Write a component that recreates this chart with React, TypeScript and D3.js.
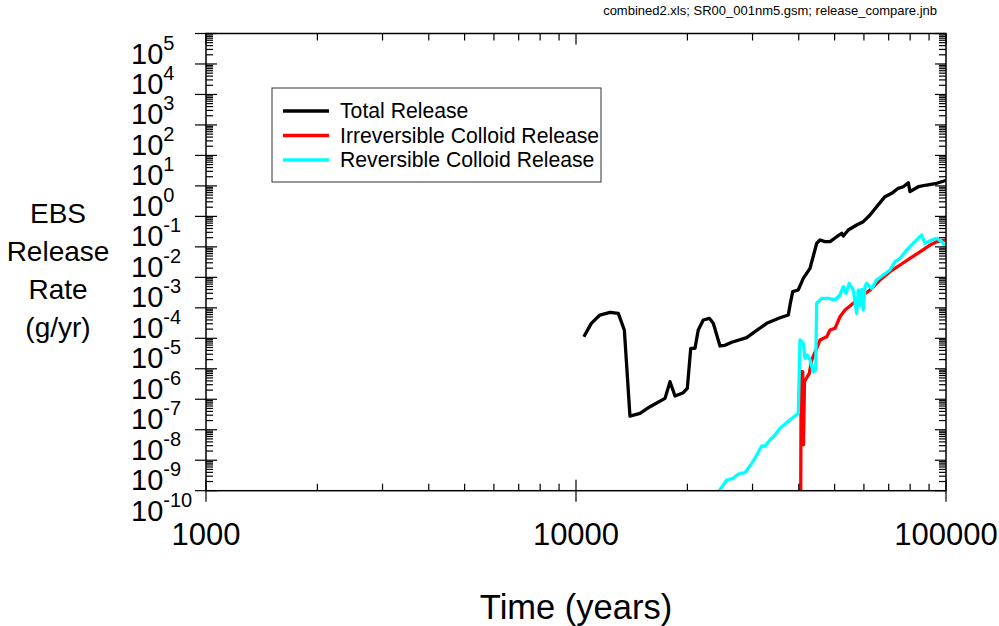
import React from 'react';
import * as d3 from 'd3';

// EBS release rate vs time, log-log

const totalYears = [10500, 11000, 11600, 12360, 13010, 13510, 13990, 14890, 15850, 17400, 17950, 18520, 19500, 19990, 20420, 20970, 21400, 22080, 22930, 23500, 24500, 25270, 26350, 28930, 30460, 32770, 35590, 37480, 37880, 38520, 39880, 41140, 42900, 44730, 45660, 47100, 48590, 50660, 52260, 52780, 54440, 57360, 59770, 62310, 64960, 68410, 71330, 74310, 76650, 79100, 79920, 84170, 88660, 94380, 99380, 100000];
const totalValues = [1.13e-5, 3.1e-5, 5.8e-5, 7.1e-5, 6.6e-5, 1.87e-5, 2.8e-8, 3.46e-8, 5.7e-8, 1.07e-7, 3.77e-7, 1.28e-7, 1.64e-7, 2.29e-7, 4.7e-6, 4.7e-6, 1.87e-5, 3.98e-5, 4.53e-5, 3.1e-5, 5.6e-6, 5.9e-6, 7.4e-6, 1.05e-5, 1.65e-5, 3.1e-5, 4.74e-5, 5.8e-5, 1.24e-4, 3.38e-4, 3.85e-4, 9.3e-4, 1.98e-3, 1.31e-2, 1.68e-2, 1.48e-2, 1.48e-2, 2.15e-2, 2.79e-2, 2.27e-2, 3.57e-2, 5.2e-2, 6.7e-2, 0.111, 0.208, 0.443, 0.571, 0.834, 0.94, 1.27, 0.646, 0.94, 1.07, 1.22, 1.48, 1.5];

const irrevYears = [40490, 40600, 41000, 41200, 41450, 41700, 42180, 42710, 43350, 44730, 45660, 47600, 48590, 50120, 51700, 53330, 56160, 57360, 62310, 66310, 70560, 75120, 79920, 85070, 90530, 94380, 99380, 100000];
const irrevValues = [9e-11, 8.0e-7, 8.0e-7, 3.2e-9, 4.0e-7, 4.3e-7, 5.5e-7, 7.1e-7, 1.94e-6, 4.7e-6, 8.8e-6, 1.13e-5, 1.87e-5, 2.13e-5, 5.1e-5, 8.5e-5, 1.41e-4, 1.81e-4, 3.85e-4, 8.2e-4, 1.53e-3, 2.54e-3, 4.2e-3, 6.9e-3, 1.15e-2, 1.48e-2, 1.68e-2, 1.6e-2];

const revYears = [24240, 25550, 26610, 27460, 28630, 29850, 30790, 31760, 32420, 33440, 34500, 35590, 37880, 39880, 40310, 41140, 41580, 42180, 42900, 43790, 44440, 44730, 46140, 48070, 50120, 51700, 52780, 53660, 54780, 56160, 57360, 57940, 58560, 59200, 59770, 60400, 61060, 62990, 64960, 67680, 70560, 72820, 75120, 78320, 81560, 85990, 87770, 91480, 94380, 97360, 100000];
const revValues = [9e-11, 2.24e-10, 2.55e-10, 3.53e-10, 3.9e-10, 7.9e-10, 1.48e-9, 2.93e-9, 2.9e-9, 4.6e-9, 6.7e-9, 1.11e-8, 2.09e-8, 3.46e-8, 8.8e-6, 6.9e-6, 2.2e-6, 2.83e-6, 1.94e-6, 8.0e-7, 9.1e-7, 1.41e-4, 2.05e-4, 2.05e-4, 1.81e-4, 2.64e-4, 4.93e-4, 2.95e-4, 6.37e-4, 3.85e-4, 6.6e-5, 3.85e-4, 1.2e-4, 4.0e-4, 8.5e-5, 5.0e-4, 6.37e-4, 4.37e-4, 8.2e-4, 1.19e-3, 1.74e-3, 3.26e-3, 4.2e-3, 7.9e-3, 1.31e-2, 2.45e-2, 1.31e-2, 1.68e-2, 1.91e-2, 1.48e-2, 1.01e-2];

const seriesNames = ['Total Release', 'Irreversible Colloid Release', 'Reversible Colloid Release'];
const seriesColors = ['#000000', '#ff0000', '#00ffff'];
const yLabelLines = ['EBS', 'Release', 'Rate', '(g/yr)'];
const xTickLabels = ['1000', '10000', '100000'];

const FONT = '"Liberation Sans", Arial, Helvetica, sans-serif';

export default function App() {
  const width = 999;
  const height = 626;
  const left = 206, right = 946, top = 33.5, bottom = 490.7;

  const x = d3.scaleLog().domain([1000, 100000]).range([left, right]);
  const y = d3.scaleLog().domain([1e-10, 1e5]).range([bottom, top]);

  const line = d3.line<[number, number]>()
    .x(d => x(d[0]))
    .y(d => y(d[1]));

  const series = [
    d3.zip(totalYears, totalValues),
    d3.zip(irrevYears, irrevValues),
    d3.zip(revYears, revValues),
  ] as [number, number][][];

  // decades and minor ticks
  const yMajors = d3.range(-10, 6).map(e => Math.pow(10, e));
  const yMinors: number[] = [];
  yMajors.slice(0, -1).forEach(p => { for (let k = 2; k <= 9; k++) yMinors.push(p * k); });
  const xMajors = [1000, 10000, 100000];
  const xMinors: number[] = [];
  xMajors.slice(0, -1).forEach(p => { for (let k = 2; k <= 9; k++) xMinors.push(p * k); });

  const major = 11, minor = 7;

  return (
    <svg width={width} height={height} style={{ position: 'absolute', left: 0, top: 0, background: '#fff' }}
      fontFamily={FONT}>
      <defs>
        <clipPath id="plot-clip">
          <rect x={left} y={top} width={right - left} height={bottom - top} />
        </clipPath>
      </defs>

      <text x={937} y={15} fontSize={13} textAnchor="end" fill="#000">
        combined2.xls; SR00_001nm5.gsm; release_compare.jnb
      </text>

      {/* series */}
      <g clipPath="url(#plot-clip)" fill="none" strokeWidth={3.3} strokeLinejoin="round">
        {series.map((s, i) => (
          <path key={i} d={line(s) || ''} stroke={seriesColors[i]} />
        ))}
      </g>

      {/* frame */}
      <rect x={left} y={top} width={right - left} height={bottom - top} fill="none" stroke="#000" strokeWidth={1.5} />

      {/* ticks */}
      <g stroke="#000" strokeWidth={1.2}>
        {yMajors.map(v => (
          <g key={'ym' + v}>
            <line x1={left - major} x2={left + major} y1={y(v)} y2={y(v)} />
            <line x1={right - major} x2={right} y1={y(v)} y2={y(v)} />
          </g>
        ))}
        {yMinors.map(v => (
          <g key={'yn' + v}>
            <line x1={left} x2={left + minor} y1={y(v)} y2={y(v)} />
            <line x1={right - minor} x2={right} y1={y(v)} y2={y(v)} />
          </g>
        ))}
        {xMajors.map(v => (
          <g key={'xm' + v}>
            <line x1={x(v)} x2={x(v)} y1={bottom - major} y2={bottom + major} />
            <line x1={x(v)} x2={x(v)} y1={top} y2={top + major} />
          </g>
        ))}
        {xMinors.map(v => (
          <g key={'xn' + v}>
            <line x1={x(v)} x2={x(v)} y1={bottom - minor} y2={bottom} />
            <line x1={x(v)} x2={x(v)} y1={top} y2={top + minor} />
          </g>
        ))}
      </g>

      {/* y tick labels */}
      {yMajors.map(v => {
        const e = Math.round(Math.log10(v));
        return (
          <text key={'yl' + v} x={131} y={y(v) + 30} fontSize={29} fill="#000">
            10<tspan dy={-14} fontSize={20}>{e}</tspan>
          </text>
        );
      })}

      {/* x tick labels */}
      {xMajors.map((v, i) => (
        <text key={'xl' + v} x={x(v)} y={545} fontSize={31} textAnchor="middle" fill="#000">
          {xTickLabels[i]}
        </text>
      ))}

      <text x={576} y={619} fontSize={34.5} textAnchor="middle" fill="#000">Time (years)</text>

      {yLabelLines.map((t, i) => (
        <text key={t} x={58} y={223 + i * 38} fontSize={28} textAnchor="middle" fill="#000">{t}</text>
      ))}

      {/* legend */}
      <g>
        <rect x={272} y={88} width={329} height={94} fill="#fff" stroke="#333" strokeWidth={1} />
        {seriesNames.map((name, i) => (
          <g key={name} transform={`translate(0, ${111 + i * 24.5})`}>
            <line x1={283} x2={329} y1={0} y2={0} stroke={seriesColors[i]} strokeWidth={3.3} />
            <text x={340} y={7} fontSize={21.2} fill="#000">{name}</text>
          </g>
        ))}
      </g>
    </svg>
  );
}
